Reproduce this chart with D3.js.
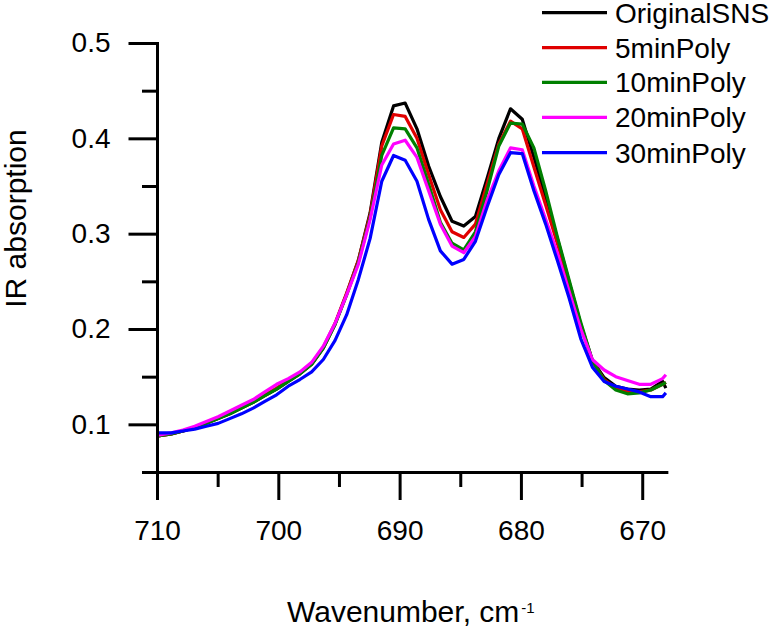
<!DOCTYPE html>
<html>
<head>
<meta charset="utf-8">
<script src="https://cdn.jsdelivr.net/npm/d3@7/dist/d3.min.js"></script>
<style>
  html, body { margin: 0; padding: 0; background: #fff; }
  svg { display: block; }
  text { font-family: "Liberation Sans", Arial, sans-serif; fill: #000; }
</style>
</head>
<body>
<svg id="chart" width="773" height="635"></svg>
<script>
// ---------- data ----------
const wavenumbers = [710.75, 709.78, 708.82, 707.86, 706.89, 705.93, 704.96, 704.00, 703.04, 702.07,
  701.11, 700.14, 699.18, 698.22, 697.25, 696.29, 695.32, 694.36, 693.40, 692.43,
  691.47, 690.50, 689.54, 688.57, 687.61, 686.64, 685.68, 684.71, 683.75, 682.79,
  681.82, 680.86, 679.89, 678.93, 677.96, 677.00, 676.04, 675.07, 674.11, 673.14,
  672.18, 671.22, 670.25, 669.29, 668.32, 668.05];

const originalSNS = [0.086, 0.088, 0.090, 0.093, 0.097, 0.101, 0.106, 0.111, 0.117, 0.123,
  0.130, 0.137, 0.145, 0.153, 0.163, 0.180, 0.205, 0.237, 0.272, 0.322,
  0.396, 0.434, 0.437, 0.410, 0.371, 0.339, 0.313, 0.308, 0.318, 0.358,
  0.400, 0.431, 0.420, 0.380, 0.338, 0.295, 0.250, 0.205, 0.167, 0.149,
  0.140, 0.137, 0.136, 0.137, 0.145, 0.138];

const min5Poly = [0.087, 0.088, 0.090, 0.093, 0.097, 0.102, 0.107, 0.112, 0.118, 0.124,
  0.131, 0.138, 0.146, 0.154, 0.164, 0.181, 0.206, 0.238, 0.272, 0.320,
  0.392, 0.425, 0.423, 0.400, 0.362, 0.325, 0.302, 0.296, 0.310, 0.352,
  0.394, 0.418, 0.410, 0.370, 0.330, 0.290, 0.249, 0.204, 0.166, 0.147,
  0.138, 0.134, 0.134, 0.136, 0.142, 0.144];

const min10Poly = [0.086, 0.088, 0.090, 0.093, 0.097, 0.101, 0.106, 0.111, 0.117, 0.123,
  0.130, 0.137, 0.145, 0.153, 0.163, 0.180, 0.205, 0.236, 0.270, 0.317,
  0.382, 0.411, 0.410, 0.390, 0.352, 0.312, 0.290, 0.283, 0.302, 0.345,
  0.392, 0.416, 0.415, 0.390, 0.345, 0.297, 0.252, 0.207, 0.167, 0.146,
  0.136, 0.132, 0.133, 0.136, 0.142, 0.144];

const min20Poly = [0.088, 0.089, 0.091, 0.094, 0.098, 0.103, 0.108, 0.114, 0.120, 0.126,
  0.134, 0.142, 0.148, 0.155, 0.165, 0.182, 0.206, 0.236, 0.268, 0.315,
  0.372, 0.394, 0.398, 0.380, 0.345, 0.310, 0.287, 0.280, 0.297, 0.335,
  0.366, 0.390, 0.388, 0.350, 0.315, 0.280, 0.240, 0.200, 0.168, 0.157,
  0.150, 0.146, 0.142, 0.142, 0.148, 0.152];

const min30Poly = [0.091, 0.091, 0.091, 0.093, 0.095, 0.098, 0.101, 0.106, 0.111, 0.117,
  0.124, 0.131, 0.140, 0.147, 0.155, 0.168, 0.188, 0.215, 0.252, 0.295,
  0.355, 0.382, 0.377, 0.355, 0.315, 0.282, 0.268, 0.273, 0.292, 0.328,
  0.362, 0.385, 0.384, 0.345, 0.310, 0.272, 0.233, 0.190, 0.160, 0.145,
  0.140, 0.137, 0.134, 0.129, 0.129, 0.133];

const seriesNames = ["OriginalSNS", "5minPoly", "10minPoly", "20minPoly", "30minPoly"];
const seriesColors = ["#000000", "#e00000", "#008000", "#ff00ff", "#0000ff"];
const seriesValues = [originalSNS, min5Poly, min10Poly, min20Poly, min30Poly];

const xMajorTicks = [710, 700, 690, 680, 670];
const xMinorTicks = [705, 695, 685, 675];
const yMajorTicks = [0.1, 0.2, 0.3, 0.4, 0.5];
const yMinorTicks = [0.05, 0.15, 0.25, 0.35, 0.45];

const xTitle = "Wavenumber, cm";
const xTitleSup = "-1";
const yTitle = "IR absorption";

// ---------- layout ----------
const svg = d3.select("#chart");
const plotLeft = 157, plotRight = 667.7, plotTop = 43, plotBottom = 472;
const x = d3.scaleLinear().domain([710, 667.9]).range([plotLeft, plotRight]);
const y = d3.scaleLinear().domain([0.05, 0.5]).range([plotBottom, plotTop]);

svg.append("defs").append("clipPath").attr("id", "plotclip")
  .append("rect").attr("x", plotLeft).attr("y", 0).attr("width", plotRight - plotLeft).attr("height", plotBottom);

// ---------- lines ----------
const line = d3.line().x(d => x(d[0])).y(d => y(d[1]));
const plot = svg.append("g").attr("clip-path", "url(#plotclip)");
seriesValues.forEach((vals, i) => {
  plot.append("path")
    .datum(wavenumbers.map((w, j) => [w, vals[j]]))
    .attr("d", line)
    .attr("fill", "none")
    .attr("stroke", seriesColors[i])
    .attr("stroke-width", 3.2)
    .attr("stroke-linejoin", "round");
});

// ---------- axes ----------
function styleAxis(g) {
  g.selectAll("path.domain").attr("stroke", "#000").attr("stroke-width", 3);
  g.selectAll(".tick line").attr("stroke", "#000").attr("stroke-width", 3);
  g.selectAll(".tick text").attr("font-size", 28).attr("font-family", "'Liberation Sans', Arial, sans-serif").attr("fill", "#000");
}

// x minor
svg.append("g").attr("transform", `translate(0,${plotBottom})`)
  .call(d3.axisBottom(x).tickValues(xMinorTicks).tickSize(15).tickSizeOuter(0).tickFormat(""))
  .call(styleAxis);
// x major
const gx = svg.append("g").attr("transform", `translate(0,${plotBottom})`)
  .call(d3.axisBottom(x).tickValues(xMajorTicks).tickSize(28).tickSizeOuter(0).tickPadding(12).tickFormat(d3.format("d")))
  .call(styleAxis);
gx.selectAll(".tick text").attr("dy", "0.71em").attr("y", 48);

// y minor
svg.append("g").attr("transform", `translate(${plotLeft},0)`)
  .call(d3.axisLeft(y).tickValues(yMinorTicks).tickSize(15).tickSizeOuter(0).tickFormat(""))
  .call(styleAxis);
// y major
const gy = svg.append("g").attr("transform", `translate(${plotLeft},0)`)
  .call(d3.axisLeft(y).tickValues(yMajorTicks).tickSize(28.5).tickSizeOuter(0).tickPadding(18).tickFormat(d3.format(".1f")))
  .call(styleAxis);
gy.selectAll("path.domain").attr("stroke-linecap", "square");

// ---------- titles ----------
const xt = svg.append("text")
  .attr("x", 287).attr("y", 622)
  .attr("text-anchor", "start")
  .attr("font-size", 30);
xt.append("tspan").text(xTitle);
xt.append("tspan").text(xTitleSup).attr("font-size", 15).attr("dy", -9).attr("dx", 2);

svg.append("text")
  .attr("transform", `translate(26,${218.5}) rotate(-90)`)
  .attr("text-anchor", "middle")
  .attr("font-size", 30)
  .text(yTitle);

// ---------- legend ----------
const legendY = [12.7, 47.7, 82.3, 117.3, 152.7];
seriesNames.forEach((name, i) => {
  const g = svg.append("g");
  g.append("line")
    .attr("x1", 542).attr("x2", 607)
    .attr("y1", legendY[i]).attr("y2", legendY[i])
    .attr("stroke", seriesColors[i]).attr("stroke-width", 3.2);
  g.append("text")
    .attr("x", 615).attr("y", legendY[i])
    .attr("dy", "0.36em")
    .attr("font-size", 28)
    .text(name);
});
</script>
</body>
</html>
